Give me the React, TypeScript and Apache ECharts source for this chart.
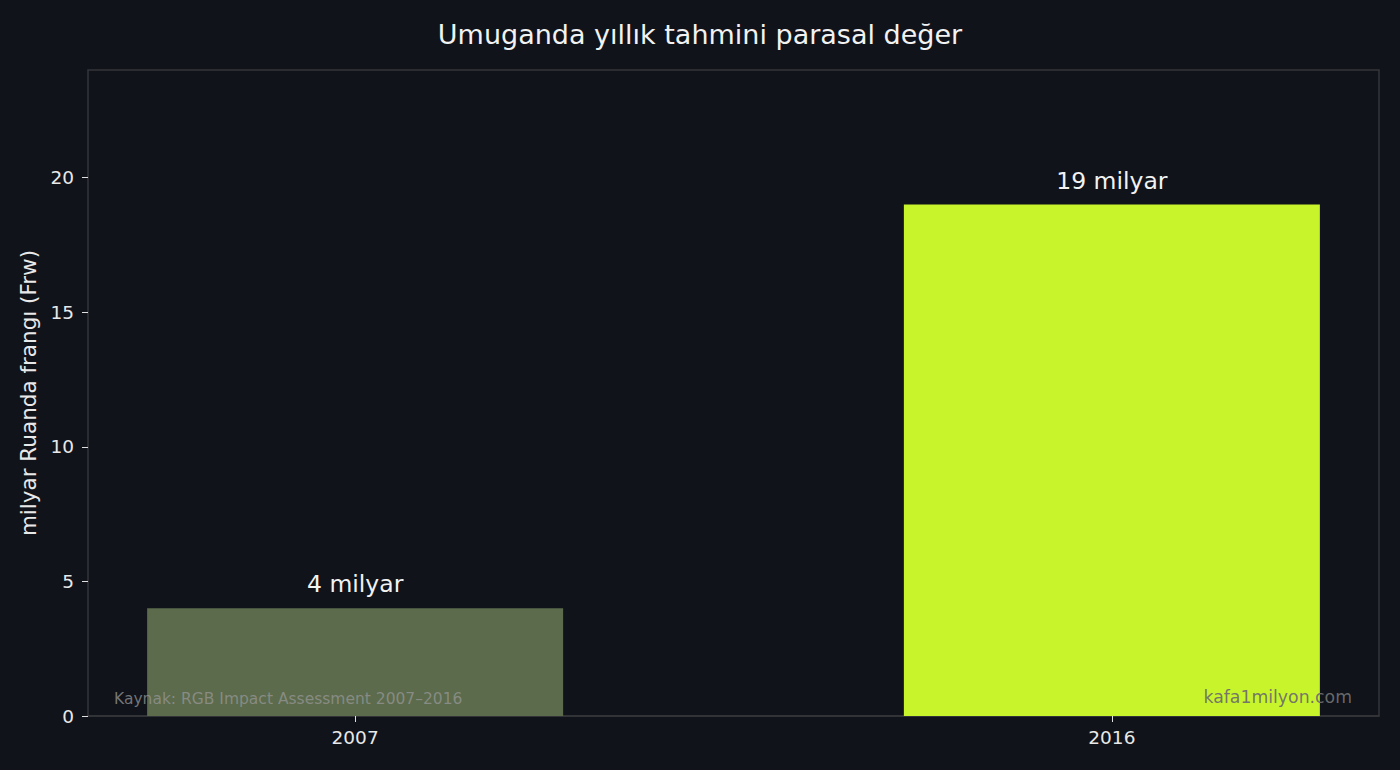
import React, { useEffect, useRef } from 'react'
import * as echarts from 'echarts'

const years = ['2007', '2016']
const values = [4, 19]
const labels = ['4 milyar', '19 milyar']
const barColors = ['#5c6b4c', '#c8f42b']
const yTicks = [0, 5, 10, 15, 20]

const FONT = 'DejaVu Sans'

const App: React.FC = () => {
  const chartRef = useRef<HTMLDivElement>(null)

  useEffect(() => {
    if (!chartRef.current) return
    const chart = echarts.init(chartRef.current, undefined, { renderer: 'svg' })

    const option: echarts.EChartsOption = {
      animation: false,
      backgroundColor: '#10131a',
      textStyle: { fontFamily: FONT },
      title: {
        text: 'Umuganda yıllık tahmini parasal değer',
        left: 'center',
        top: 16,
        textStyle: { color: '#f2f2f2', fontSize: 27, fontWeight: 'normal', fontFamily: FONT }
      },
      grid: {
        left: 88,
        right: 21,
        top: 70,
        bottom: 54,
        show: true,
        borderColor: '#34363a',
        borderWidth: 1.5,
        backgroundColor: 'transparent'
      },
      xAxis: {
        type: 'value',
        min: -0.353,
        max: 1.353,
        splitLine: { show: false },
        axisLine: { show: true, onZero: false, lineStyle: { color: '#34363a', width: 1.5 } },
        axisTick: {
          show: true,
          customValues: [0, 1],
          length: 6,
          lineStyle: { color: '#e0e0e0' }
        },
        axisLabel: {
          customValues: [0, 1],
          formatter: (v: number) => years[Math.round(v)] ?? '',
          color: '#e8e8e8',
          fontSize: 18.5,
          margin: 12,
          fontFamily: FONT
        }
      },
      yAxis: {
        type: 'value',
        min: 0,
        max: 24,
        name: 'milyar Ruanda frangı (Frw)',
        nameLocation: 'middle',
        nameGap: 47,
        nameTextStyle: { color: '#e8e8e8', fontSize: 21.5, fontFamily: FONT },
        splitLine: { show: false },
        axisLine: { show: false, onZero: false },
        axisTick: {
          show: true,
          customValues: yTicks,
          length: 6,
          lineStyle: { color: '#e0e0e0' }
        },
        axisLabel: {
          customValues: yTicks,
          color: '#e8e8e8',
          fontSize: 18.5,
          margin: 14,
          fontFamily: FONT
        }
      },
      series: [
        {
          type: 'bar',
          barWidth: 416,
          data: values.map((v, i) => ({
            value: [i, v],
            itemStyle: { color: barColors[i] },
            label: { formatter: labels[i] }
          })),
          label: {
            show: true,
            position: 'top',
            distance: 12,
            color: '#f2f2f2',
            fontSize: 23.5,
            fontFamily: FONT
          },
          z: 2
        }
      ],
      graphic: [
        {
          type: 'text',
          left: 114,
          top: 691,
          z: 100,
          style: {
            text: 'Kaynak: RGB Impact Assessment 2007–2016',
            fill: 'rgba(150,150,150,0.75)',
            fontSize: 15.5,
            fontFamily: FONT
          }
        },
        {
          type: 'text',
          right: 48,
          top: 688,
          z: 100,
          style: {
            text: 'kafa1milyon.com',
            fill: 'rgba(110,110,110,0.95)',
            fontSize: 17.3,
            fontFamily: FONT
          }
        }
      ]
    }

    chart.setOption(option)

    return () => {
      chart.dispose()
    }
  }, [])

  return (
    <div
      ref={chartRef}
      style={{ position: 'fixed', left: 0, top: 0, width: 1400, height: 770 }}
    />
  )
}

export default App
